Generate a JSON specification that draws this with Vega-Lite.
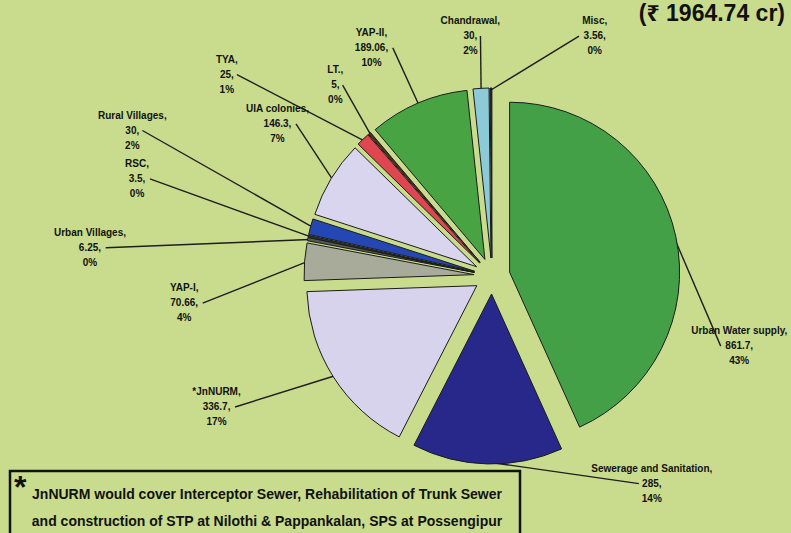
{
  "$schema": "https://vega.github.io/schema/vega-lite/v6.json",
  "background": "#c9dc8e",
  "padding": {"left": 8, "top": 0, "right": 0, "bottom": 0},
  "spacing": 1,
  "bounds": "flush",
  "config": {"font": "Liberation Sans", "view": {"stroke": null}, "title": {"color": "#111111"}},
  "datasets": {
    "budget": [
      {"name": "Urban Water supply", "amount": 861.7, "pct": 43},
      {"name": "Sewerage and Sanitation", "amount": 285, "pct": 14},
      {"name": "*JnNURM", "amount": 336.7, "pct": 17},
      {"name": "YAP-I", "amount": 70.66, "pct": 4},
      {"name": "Urban Villages", "amount": 6.25, "pct": 0},
      {"name": "RSC", "amount": 3.5, "pct": 0},
      {"name": "Rural Villages", "amount": 30, "pct": 2},
      {"name": "UIA colonies", "amount": 146.3, "pct": 7},
      {"name": "TYA", "amount": 25, "pct": 1},
      {"name": "LT.", "amount": 5, "pct": 0},
      {"name": "YAP-II", "amount": 189.06, "pct": 10},
      {"name": "Chandrawal", "amount": 30, "pct": 2},
      {"name": "Misc", "amount": 3.56, "pct": 0}
    ]
  },
  "vconcat": [
    {
      "name": "pie",
      "width": 783,
      "height": 470,
      "view": {"stroke": null},
      "title": {"text": "(₹ 1964.74 cr)", "anchor": "end", "frame": "group", "offset": -26, "fontSize": 23, "fontWeight": "bold", "dx": -8, "font": "Liberation Sans, Noto Sans, sans-serif"},
      "data": {"name": "budget"},
      "transform": [
        {"joinaggregate": [{"op": "sum", "field": "amount", "as": "total"}]},
        {"window": [{"op": "sum", "field": "amount", "as": "ce"}, {"op": "row_number", "as": "i"}], "frame": [null, 0]}
      ],
      "layer": [
        {
          "mark": {"type": "rule", "color": "#1e1e1e", "strokeWidth": 1.4},
          "encoding": {
            "x": {"value": {"expr": "pie_width - 301 + 186*sin(PI*(2*datum.ce-datum.amount)/datum.total)"}},
            "y": {"value": {"expr": "pie_height/2 + 41 - 186*cos(PI*(2*datum.ce-datum.amount)/datum.total)"}},
            "x2": {"value": {"expr": "pie_width - 301 + [257,262,305,309,403,368,388,263,333,247,258,241,261][datum.i-1]*sin(PI*(2*datum.ce-datum.amount)/datum.total + PI/180*[28,-39,7,-9.4,-7.3,3.1,6.8,4.2,-9.4,1.3,-4.7,-1.8,23.5][datum.i-1]) + (sin(PI*(2*datum.ce-datum.amount)/datum.total + PI/180*[28,-39,7,-9.4,-7.3,3.1,6.8,4.2,-9.4,1.3,-4.7,-1.8,23.5][datum.i-1]) < 0 ? 1 : -1)*(length(toString(datum.amount))*2.8 + 4.5)"}},
            "y2": {"value": {"expr": "pie_height/2 + 41 - [257,262,305,309,403,368,388,263,333,247,258,241,261][datum.i-1]*cos(PI*(2*datum.ce-datum.amount)/datum.total + PI/180*[28,-39,7,-9.4,-7.3,3.1,6.8,4.2,-9.4,1.3,-4.7,-1.8,23.5][datum.i-1])"}}
          }
        },
        {
          "mark": {
            "type": "arc",
            "radius": 170,
            "stroke": "#1b1b1b",
            "strokeWidth": 1,
            "x": {"expr": "pie_width - 301 + 18*sin(PI*(2*datum.ce-datum.amount)/datum.total)"},
            "y": {"expr": "pie_height/2 + 41 - 18*cos(PI*(2*datum.ce-datum.amount)/datum.total)"}
          },
          "encoding": {
            "theta": {"field": "amount", "type": "quantitative", "stack": true, "scale": {"nice": false}},
            "order": {"field": "i", "type": "quantitative"},
            "color": {
              "field": "name",
              "type": "nominal",
              "legend": null,
              "scale": {
                "domain": ["Urban Water supply", "Sewerage and Sanitation", "*JnNURM", "YAP-I", "Urban Villages", "RSC", "Rural Villages", "UIA colonies", "TYA", "LT.", "YAP-II", "Chandrawal", "Misc"],
                "range": ["#43a047", "#27288a", "#d8d3ed", "#a8aa9a", "#5a5a55", "#3a3a3a", "#2447b4", "#dad5ee", "#e0464f", "#5b2a20", "#48a443", "#8ccad8", "#1c1c38"]
              }
            }
          }
        },
        {
          "mark": {
            "type": "text",
            "fontSize": 10,
            "fontWeight": "bold",
            "lineHeight": 15,
            "align": "center",
            "baseline": "middle",
            "dy": -15,
            "color": "#111111",
            "x": {"expr": "pie_width - 301 + [257,262,305,309,403,368,388,263,333,247,258,241,261][datum.i-1]*sin(PI*(2*datum.ce-datum.amount)/datum.total + PI/180*[28,-39,7,-9.4,-7.3,3.1,6.8,4.2,-9.4,1.3,-4.7,-1.8,23.5][datum.i-1])"},
            "y": {"expr": "pie_height/2 + 41 - [257,262,305,309,403,368,388,263,333,247,258,241,261][datum.i-1]*cos(PI*(2*datum.ce-datum.amount)/datum.total + PI/180*[28,-39,7,-9.4,-7.3,3.1,6.8,4.2,-9.4,1.3,-4.7,-1.8,23.5][datum.i-1])"},
            "text": {"expr": "[datum.name + ',', datum.amount + ',', datum.pct + '%']"}
          },
          "encoding": {}
        }
      ]
    },
    {
      "name": "note",
      "width": 510,
      "height": 75,
      "view": {"stroke": "#111111", "strokeWidth": 2.5},
      "title": {"text": "*", "anchor": "start", "frame": "group", "offset": -34, "fontSize": 32, "fontWeight": "bold", "dx": 4},
      "data": {"values": [
        {"line": 1, "text": "JnNURM would cover Interceptor Sewer, Rehabilitation of Trunk Sewer"},
        {"line": 2, "text": "and construction of STP at Nilothi & Pappankalan, SPS at Possengipur"}
      ]},
      "mark": {"type": "text", "fontSize": 14, "fontWeight": "bold", "dx": 2, "color": "#111111"},
      "encoding": {
        "y": {"field": "line", "type": "ordinal", "axis": null, "scale": {"padding": 0.89}},
        "text": {"field": "text"}
      }
    }
  ]
}
